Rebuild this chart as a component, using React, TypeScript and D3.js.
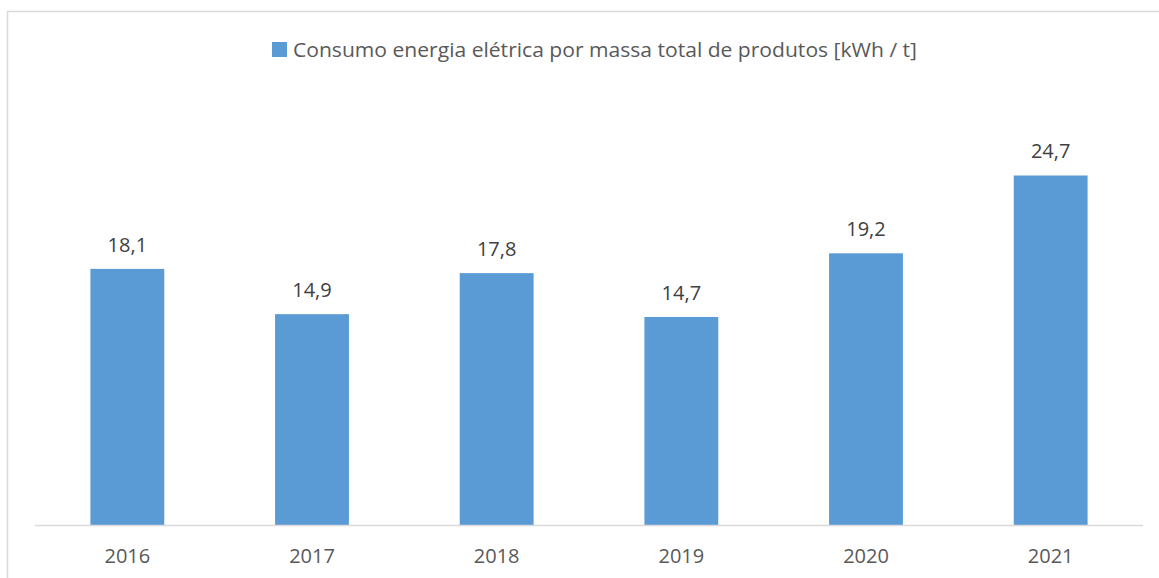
import React, { useEffect, useRef } from "react";
import * as d3 from "d3";

// valores
const years = ["2016", "2017", "2018", "2019", "2020", "2021"];
const consumo = [18.1, 14.9, 17.8, 14.7, 19.2, 24.7];
const legendLabel = "Consumo energia elétrica por massa total de produtos [kWh / t]";

const W = 1159;
const H = 578;
const FONT = "'Open Sans', sans-serif";

export default function App() {
  const svgRef = useRef<SVGSVGElement>(null);

  useEffect(() => {
    if (!svgRef.current) return;
    const svg = d3.select(svgRef.current);
    svg.selectAll("*").remove();

    const left = 35;
    const right = 1143;
    const base = 525;

    // moldura do gráfico
    svg
      .append("rect")
      .attr("x", 7.5)
      .attr("y", 11.5)
      .attr("width", W + 20)
      .attr("height", H + 20)
      .attr("fill", "white")
      .attr("stroke", "#d9d9d9")
      .attr("stroke-width", 1.5);

    const x = d3.scaleBand<string>().domain(years).range([left, right]).paddingInner(0.6).paddingOuter(0.3);
    const y = d3.scaleLinear().domain([0, 30]).range([base, base - 30 * 14.15]);

    const data = years.map((yr, i) => ({ yr, v: consumo[i] }));

    svg
      .append("g")
      .selectAll("rect")
      .data(data)
      .enter()
      .append("rect")
      .attr("x", (d) => x(d.yr)!)
      .attr("y", (d) => y(d.v))
      .attr("width", x.bandwidth())
      .attr("height", (d) => base - y(d.v))
      .attr("fill", "#5b9bd5");

    // eixo x
    svg
      .append("line")
      .attr("x1", left)
      .attr("x2", right)
      .attr("y1", base + 0.5)
      .attr("y2", base + 0.5)
      .attr("stroke", "#d9d9d9")
      .attr("stroke-width", 1.5);

    svg
      .append("g")
      .selectAll("text")
      .data(years)
      .enter()
      .append("text")
      .attr("x", (d) => x(d)! + x.bandwidth() / 2)
      .attr("y", 563)
      .attr("text-anchor", "middle")
      .style("font-family", FONT)
      .style("font-size", "20px")
      .style("fill", "#595959")
      .text((d) => d);

    // rótulos de valor
    svg
      .append("g")
      .selectAll("text")
      .data(data)
      .enter()
      .append("text")
      .attr("x", (d) => x(d.yr)! + x.bandwidth() / 2)
      .attr("y", (d) => y(d.v) - 17)
      .attr("text-anchor", "middle")
      .style("font-family", FONT)
      .style("font-size", "20px")
      .style("fill", "#404040")
      .text((d) => d3.format(".1f")(d.v).replace(".", ","));

    // legenda
    const lg = svg.append("g").attr("transform", "translate(272, 42)");
    lg.append("rect").attr("width", 15).attr("height", 15).attr("fill", "#5b9bd5");
    lg.append("text")
      .attr("x", 21)
      .attr("y", 15)
      .attr("textLength", 624)
      .attr("lengthAdjust", "spacingAndGlyphs")
      .style("font-family", FONT)
      .style("font-size", "20px")
      .style("fill", "#595959")
      .text(legendLabel);
  }, []);

  return (
    <svg
      ref={svgRef}
      width={W}
      height={H}
      style={{ position: "absolute", left: 0, top: 0, display: "block" }}
    />
  );
}
